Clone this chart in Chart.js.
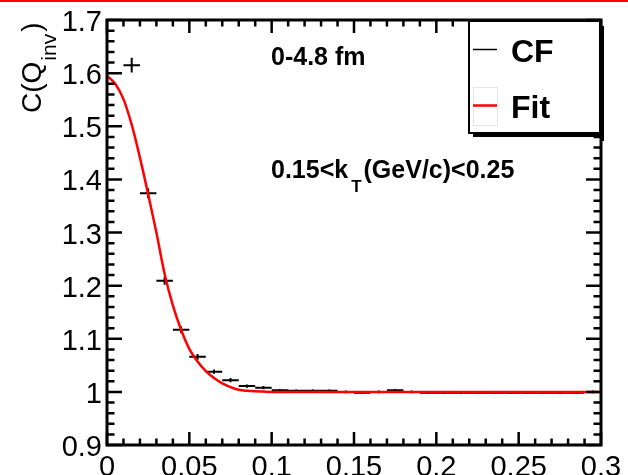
<!DOCTYPE html>
<html>
<head>
<meta charset="utf-8">
<script src="https://cdn.jsdelivr.net/npm/chart.js@4.4.1/dist/chart.umd.min.js"></script>
<style>
  html, body { margin: 0; padding: 0; background: #fff; }
  canvas { display: block; }
</style>
</head>
<body>
<canvas id="cf" width="628" height="475"></canvas>
<script>
// Measured correlation function: bin centres in Q_inv (GeV/c), values and errors
const qCenters = [0.015, 0.025, 0.035, 0.045, 0.055, 0.065, 0.075, 0.085, 0.095, 0.105,
                  0.115, 0.125, 0.135, 0.145, 0.155, 0.165, 0.175, 0.185, 0.195, 0.205,
                  0.215, 0.225, 0.235, 0.245, 0.255, 0.265, 0.275, 0.285, 0.295];
const cfValues = [1.615, 1.374, 1.209, 1.117, 1.066, 1.038, 1.022, 1.011, 1.008, 1.003,
                  1.002, 1.002, 1.002, 1.000, 0.9985, 1.000, 1.003, 1.000, 0.9985, 0.9985,
                  0.9985, 0.9985, 0.9985, 0.9985, 0.9985, 0.9985, 0.9985, 0.9985, 1.000];
const cfErrors = [0.014, 0.0095, 0.0075, 0.0065, 0.0055, 0.004, 0.004, 0.003, 0.003, 0.0025,
                  0.0025, 0.0025, 0.0025, 0.0025, 0.0025, 0.0025, 0.0025, 0.0025, 0.0025, 0.0025,
                  0.0025, 0.0025, 0.0025, 0.0025, 0.0025, 0.0025, 0.0025, 0.0025, 0.0025];
const qBinHalfWidth = 0.005;

// Fit curve sampled along Q_inv
const fitQ = [0, 0.005, 0.01, 0.015, 0.02, 0.025, 0.03, 0.035, 0.04, 0.045, 0.05,
              0.055, 0.06, 0.065, 0.07, 0.075, 0.08, 0.085, 0.09, 0.095, 0.1,
              0.15, 0.2, 0.25, 0.3];
const fitValues = [1.595, 1.580, 1.551, 1.503, 1.441, 1.372, 1.300, 1.222, 1.163, 1.117, 1.081,
                   1.057, 1.039, 1.026, 1.016, 1.009, 1.004, 1.002, 1.001, 1.0005, 1.000,
                   1.000, 1.000, 1.000, 1.000];

// Axis ticks
const xTickValues = [0, 0.05, 0.1, 0.15, 0.2, 0.25, 0.3];
const xTickLabels = ['0', '0.05', '0.1', '0.15', '0.2', '0.25', '0.3'];
const yTickValues = [0.9, 1.0, 1.1, 1.2, 1.3, 1.4, 1.5, 1.6, 1.7];
const yTickLabels = ['0.9', '1', '1.1', '1.2', '1.3', '1.4', '1.5', '1.6', '1.7'];
const minorDivisions = 5;

const FONT = '"Liberation Sans", Arial, Helvetica, sans-serif';

// Error-bar segments, separated by gaps
const hBars = [], vBars = [];
qCenters.forEach((q, i) => {
  const c = cfValues[i], e = cfErrors[i];
  hBars.push({ x: q - qBinHalfWidth, y: c }, { x: q + qBinHalfWidth, y: c }, { x: q, y: null });
  vBars.push({ x: q, y: c - e }, { x: q, y: c + e }, { x: q, y: null });
});
const fitPoints = fitQ.map((q, i) => ({ x: q, y: fitValues[i] }));

function minorValues(majors) {
  const out = [];
  for (let i = 0; i < majors.length - 1; i++) {
    const step = (majors[i + 1] - majors[i]) / minorDivisions;
    for (let k = 1; k < minorDivisions; k++) out.push(majors[i] + k * step);
  }
  return out;
}

const framePlugin = {
  id: 'frameAxes',
  beforeDraw(chart) {
    const ctx = chart.ctx;
    ctx.save();
    ctx.fillStyle = '#ffffff';
    ctx.fillRect(0, 0, chart.width, chart.height);
    ctx.fillStyle = '#ff0000';
    ctx.fillRect(0, 0, chart.width, 2);
    ctx.restore();
  },
  afterDatasetsDraw(chart) {
    const { ctx, chartArea: a, scales: { x, y } } = chart;
    ctx.save();
    ctx.strokeStyle = '#000';
    ctx.lineCap = 'butt';

    // ticks on all four sides, pointing inwards
    ctx.lineWidth = 2.5;
    ctx.beginPath();
    const xMaj = 13, xMin = 6.5, yMaj = 15, yMin = 7.5;
    xTickValues.forEach(v => {
      const p = x.getPixelForValue(v);
      ctx.moveTo(p, a.bottom); ctx.lineTo(p, a.bottom - xMaj);
      ctx.moveTo(p, a.top); ctx.lineTo(p, a.top + xMaj);
    });
    minorValues(xTickValues).forEach(v => {
      const p = x.getPixelForValue(v);
      ctx.moveTo(p, a.bottom); ctx.lineTo(p, a.bottom - xMin);
      ctx.moveTo(p, a.top); ctx.lineTo(p, a.top + xMin);
    });
    yTickValues.forEach(v => {
      const p = y.getPixelForValue(v);
      ctx.moveTo(a.left, p); ctx.lineTo(a.left + yMaj, p);
      ctx.moveTo(a.right, p); ctx.lineTo(a.right - yMaj, p);
    });
    minorValues(yTickValues).forEach(v => {
      const p = y.getPixelForValue(v);
      ctx.moveTo(a.left, p); ctx.lineTo(a.left + yMin, p);
      ctx.moveTo(a.right, p); ctx.lineTo(a.right - yMin, p);
    });
    ctx.stroke();

    // frame
    ctx.lineWidth = 3;
    ctx.strokeRect(a.left, a.top, a.right - a.left, a.bottom - a.top);

    // legend box with drop shadow
    const lx = 469, ly = 21, lw = 131, lh = 112;
    ctx.fillStyle = '#000';
    ctx.fillRect(lx + 4, ly + lh, lw, 4);
    ctx.fillRect(lx + lw, ly + 5, 4, lh + 3);
    ctx.fillStyle = '#fff';
    ctx.fillRect(lx, ly, lw, lh);
    ctx.lineWidth = 2;
    ctx.strokeRect(lx, ly, lw, lh);

    const entries = chart.data.datasets.filter(d => d.legendText);
    const rowY = [49.5, 105.5];
    entries.forEach((d, i) => {
      const cy = rowY[i];
      if (d.legendFrame) {
        ctx.strokeStyle = '#e6e6e6';
        ctx.lineWidth = 1;
        ctx.strokeRect(473.5, cy - 18, 24, 38);
      }
      ctx.strokeStyle = d.borderColor;
      ctx.lineWidth = d.legendWidth;
      ctx.beginPath();
      ctx.moveTo(473, cy); ctx.lineTo(497, cy);
      ctx.stroke();
      ctx.fillStyle = '#000';
      ctx.font = 'bold 32px ' + FONT;
      ctx.textAlign = 'left';
      ctx.textBaseline = 'alphabetic';
      ctx.fillText(d.legendText, 511, cy + 12);
    });
    ctx.restore();
  },
  afterDraw(chart) {
    const { ctx, chartArea: a, scales: { x, y } } = chart;
    ctx.save();
    ctx.fillStyle = '#000';
    ctx.textBaseline = 'alphabetic';

    // tick labels
    ctx.font = '29px ' + FONT;
    ctx.textAlign = 'right';
    yTickValues.forEach((v, i) => {
      ctx.fillText(yTickLabels[i], 102, y.getPixelForValue(v) + 11);
    });
    ctx.textAlign = 'center';
    xTickValues.forEach((v, i) => {
      ctx.fillText(xTickLabels[i], x.getPixelForValue(v), a.bottom + 31);
    });

    // y-axis title C(Q_inv), rotated
    ctx.save();
    ctx.translate(41, 113);
    ctx.rotate(-Math.PI / 2);
    ctx.textAlign = 'left';
    ctx.font = '28px ' + FONT;
    ctx.fillText('C(Q', 0, 0);
    let off = ctx.measureText('C(Q').width + 1;
    ctx.font = '21px ' + FONT;
    ctx.fillText('inv', off, 15);
    off += ctx.measureText('inv').width + 2;
    ctx.font = '28px ' + FONT;
    ctx.fillText(')', off, 0);
    ctx.restore();

    // annotations
    ctx.textAlign = 'left';
    ctx.font = 'bold 25px ' + FONT;
    ctx.fillText('0-4.8 fm', 271, 65);
    let tx = 271;
    ctx.fillText('0.15<k', tx, 178);
    tx += ctx.measureText('0.15<k').width + 3;
    ctx.font = 'bold 17px ' + FONT;
    ctx.fillText('T', tx, 192);
    tx += ctx.measureText('T').width + 2;
    ctx.font = 'bold 25px ' + FONT;
    ctx.fillText('(GeV/c)<0.25', tx, 178);
    ctx.restore();
  }
};

new Chart(document.getElementById('cf'), {
  type: 'line',
  data: {
    datasets: [
      {
        label: 'CF', legendText: 'CF', legendWidth: 1.5,
        data: hBars, borderColor: '#000000', borderWidth: 2,
        pointRadius: 0, spanGaps: false, tension: 0, fill: false, order: 1
      },
      {
        label: 'CF errors',
        data: vBars, borderColor: '#000000', borderWidth: 2,
        pointRadius: 0, spanGaps: false, tension: 0, fill: false, order: 2
      },
      {
        label: 'Fit', legendText: 'Fit', legendWidth: 2.5, legendFrame: true,
        data: fitPoints, borderColor: '#ff0000', borderWidth: 2.5,
        pointRadius: 0, cubicInterpolationMode: 'monotone', fill: false, order: 0
      }
    ]
  },
  options: {
    responsive: false,
    devicePixelRatio: 1,
    animation: false,
    events: [],
    layout: { padding: { left: 107, top: 20, right: 27, bottom: 30 } },
    scales: {
      x: { type: 'linear', min: 0, max: 0.3, display: false },
      y: { type: 'linear', min: 0.9, max: 1.7, display: false }
    },
    plugins: { legend: { display: false }, tooltip: { enabled: false } }
  },
  plugins: [framePlugin]
});
</script>
</body>
</html>
